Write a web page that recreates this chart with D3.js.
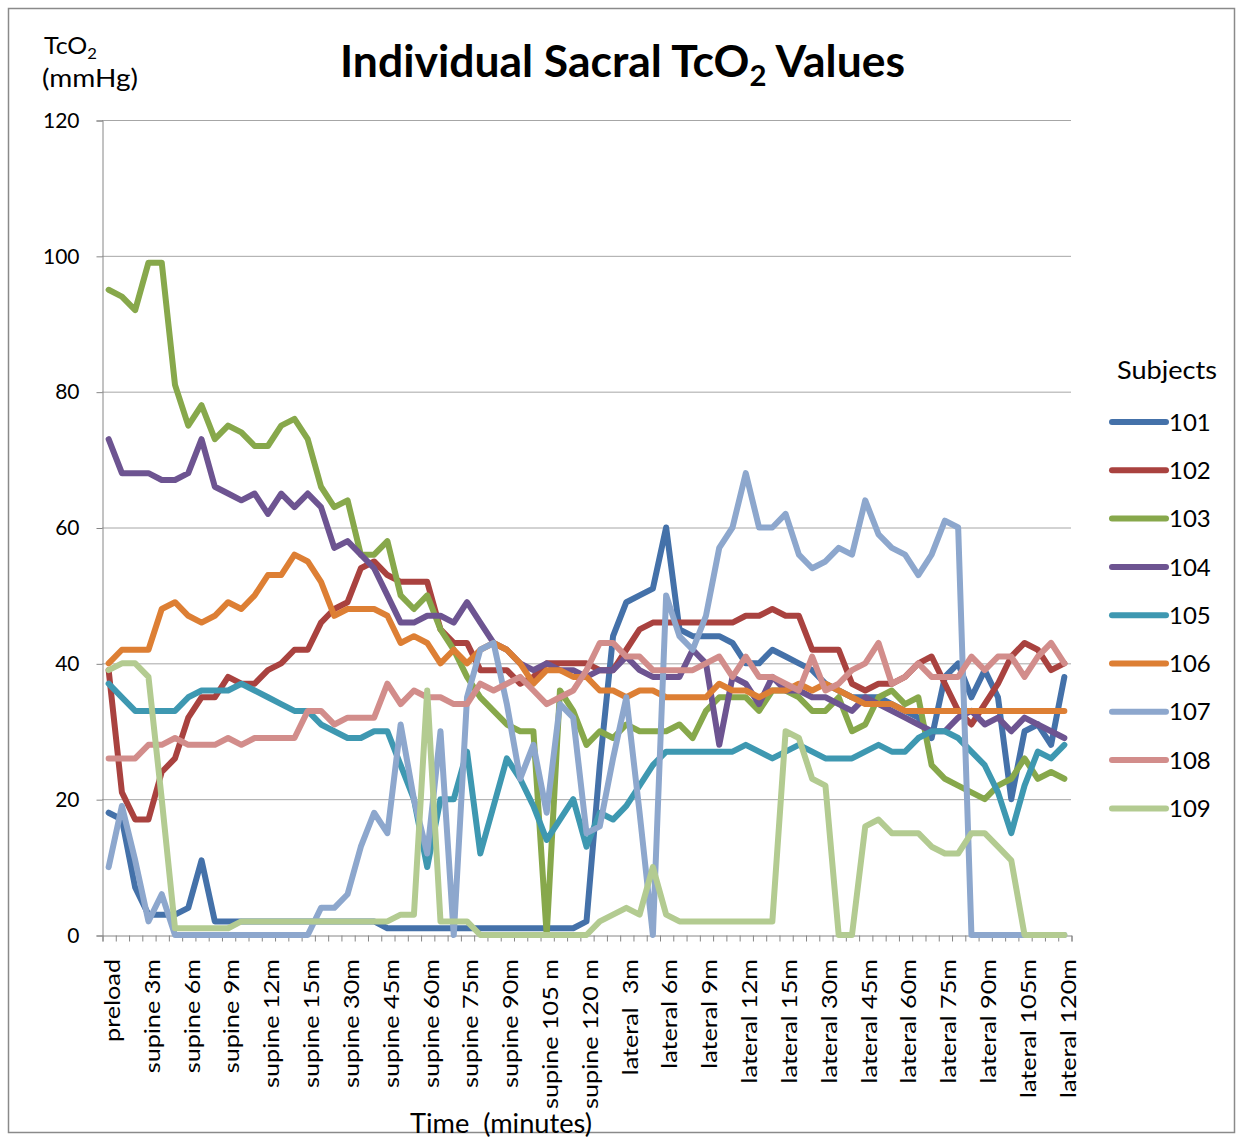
<!DOCTYPE html>
<html>
<head>
<meta charset="utf-8">
<script src="https://cdn.jsdelivr.net/npm/d3@7"></script>
<style>
  body { margin: 0; background: #fff; }
  text { font-family: Lato, "Open Sans", sans-serif; fill: #000; }
</style>
</head>
<body>
<div id="chart"></div>
<script>
// time points (73 categories, every 3rd labelled)
const categories = [
  "preload",
  "supine 1m", "supine 2m", "supine 3m", "supine 4m", "supine 5m", "supine 6m", "supine 7m", "supine 8m",
  "supine 9m", "supine 10m", "supine 11m", "supine 12m", "supine 13m", "supine 14m", "supine 15m",
  "supine 20m", "supine 25m", "supine 30m", "supine 35m", "supine 40m", "supine 45m", "supine 50m",
  "supine 55m", "supine 60m", "supine 65m", "supine 70m", "supine 75m", "supine 80m", "supine 85m",
  "supine 90m", "supine 95m", "supine 100m", "supine 105 m", "supine 110m", "supine 115m", "supine 120 m",
  "lateral 1m", "lateral 2m", "lateral  3m", "lateral 4m", "lateral 5m", "lateral 6m", "lateral 7m", "lateral 8m",
  "lateral 9m", "lateral 10m", "lateral 11m", "lateral 12m", "lateral 13m", "lateral 14m", "lateral 15m",
  "lateral 20m", "lateral 25m", "lateral 30m", "lateral 35m", "lateral 40m", "lateral 45m", "lateral 50m",
  "lateral 55m", "lateral 60m", "lateral 65m", "lateral 70m", "lateral 75m", "lateral 80m", "lateral 85m",
  "lateral 90m", "lateral 95m", "lateral 100m", "lateral 105m", "lateral 110m", "lateral 115m", "lateral 120m"
];

const subjects = ["101", "102", "103", "104", "105", "106", "107", "108", "109"];
const colors = ["#4471a9", "#a9423f", "#87a84b", "#6d5491", "#3e98b1", "#dd7f34", "#8da7cd", "#d28d8b", "#b3cb91"];

const s101 = [18,17,7,3,3,3,4,11,2,2, 2,2,2,2,2,2,2,2,2,2, 2,1,1,1,1,1,1,1,1,1, 1,1,1,1,1,1,2,
  25,44,49,50,51,60,45,44,44, 44,43,40,40,42,41,40,39,37,36, 35,35,35,34,33,32,29,38,40,35, 39,35,20,30,31,28,38];
const s102 = [39,21,17,17,24,26,32,35,35,38, 37,37,39,40,42,42,46,48,49,54, 55,53,52,52,52,45,43,43,39,39, 39,37,38,40,40,40,40,
  39,39,42,45,46,46,46,46,46, 46,46,47,47,48,47,47,42,42,42, 37,36,37,37,38,40,41,37,33,31, 34,37,41,43,42,39,40];
const s103 = [95,94,92,99,99,81,75,78,73,75, 74,72,72,75,76,73,66,63,64,56, 56,58,50,48,50,45,42,38,35,33, 31,30,30,0,36,33,28,
  30,29,31,30,30,30,31,29,33, 35,35,35,33,36,36,35,33,33,35, 30,31,35,36,34,35,25,23,22,21, 20,22,23,26,23,24,23];
const s104 = [73,68,68,68,67,67,68,73,66,65, 64,65,62,65,63,65,63,57,58,56, 54,50,46,46,47,47,46,49,46,43, 42,40,39,40,39,39,38,
  39,39,41,39,38,38,38,42,40, 28,38,37,34,38,36,36,35,35,34, 33,35,34,33,32,31,30,30,32,33, 31,32,30,32,31,30,29];
const s105 = [37,35,33,33,33,33,35,36,36,36, 37,36,35,34,33,33,31,30,29,29, 30,30,25,20,10,20,20,27,12,19, 26,23,19,14,17,20,13,
  18,17,19,22,25,27,27,27,27, 27,27,28,27,26,27,28,27,26,26, 26,27,28,27,27,29,30,30,29,27, 25,21,15,22,27,26,28];
const s106 = [40,42,42,42,48,49,47,46,47,49, 48,50,53,53,56,55,52,47,48,48, 48,47,43,44,43,40,42,40,42,43, 42,40,37,39,39,38,38,
  36,36,35,36,36,35,35,35,35, 37,36,36,35,36,36,37,36,37,36, 35,34,34,34,33,33,33,33,33,33, 33,33,33,33,33,33,33];
const s107 = [10,19,11,2,6,0,0,0,0,0, 0,0,0,0,0,0,4,4,6,13, 18,15,31,20,12,30,0,35,42,43, 34,23,28,18,34,32,15,
  16,26,35,18,0,50,44,42,47, 57,60,68,60,60,62,56,54,55,57, 56,64,59,57,56,53,56,61,60,0, 0,0,0,0,0,0,0];
const s108 = [26,26,26,28,28,29,28,28,28,29, 28,29,29,29,29,33,33,31,32,32, 32,37,34,36,35,35,34,34,37,36, 37,38,36,34,35,36,39,
  43,43,41,41,39,39,39,39,40, 41,38,41,38,38,37,36,41,36,37, 39,40,43,37,38,40,38,38,38,41, 39,41,41,38,41,43,40];
const s109 = [39,40,40,38,20,1,1,1,1,1, 2,2,2,2,2,2,2,2,2,2, 2,2,3,3,36,2,2,2,0,0, 0,0,0,0,0,0,0,
  2,3,4,3,10,3,2,2,2, 2,2,2,2,2,30,29,23,22,0, 0,16,17,15,15,15,13,12,12,15, 15,13,11,0,0,0,0];

const series = [s101, s102, s103, s104, s105, s106, s107, s108, s109];
const yTicks = [0, 20, 40, 60, 80, 100, 120];

const svgWidth = 1243, svgHeight = 1141;
const plot = { left: 102, right: 1071, top: 120, bottom: 935 };

const svg = d3.select("#chart").append("svg")
  .attr("width", svgWidth)
  .attr("height", svgHeight);

// outer frame
svg.append("rect")
  .attr("x", 8.5).attr("y", 8.5)
  .attr("width", svgWidth - 17).attr("height", svgHeight - 17)
  .attr("fill", "#fff")
  .attr("stroke", "#8a8a8a")
  .attr("stroke-width", 1.5);

const x = d3.scaleBand()
  .domain(d3.range(categories.length))
  .range([plot.left, plot.right]);
const xEdge = d3.scaleLinear()
  .domain([0, categories.length])
  .range([plot.left, plot.right]);
const y = d3.scaleLinear()
  .domain([0, 120])
  .range([plot.bottom, plot.top]);

// gridlines
svg.append("g")
  .selectAll("line")
  .data(yTicks.filter(d => d > 0))
  .join("line")
  .attr("x1", plot.left).attr("x2", plot.right)
  .attr("y1", d => y(d) + 0.5).attr("y2", d => y(d) + 0.5)
  .attr("stroke", "#a6a6a6");

// y axis
let yAxis = svg.append("g")
  .attr("transform", `translate(${plot.left + 0.5},0.5)`)
  .call(d3.axisLeft(y).tickValues(yTicks).tickSize(6).tickPadding(17));
yAxis.select(".domain").attr("stroke", "#868686");
yAxis.selectAll(".tick line").attr("stroke", "#868686");
yAxis.selectAll(".tick text")
  .style("font-family", "Lato, sans-serif")
  .attr("font-size", 21);

// x axis: ticks on category edges
let xAxis = svg.append("g")
  .attr("transform", `translate(0.5,${plot.bottom + 0.5})`)
  .call(d3.axisBottom(xEdge).tickValues(d3.range(categories.length + 1)).tickSize(6).tickFormat(""));
xAxis.select(".domain").attr("stroke", "#868686");
xAxis.selectAll(".tick line").attr("stroke", "#868686");

// category labels, every third (stretched along their length like the original)
svg.append("g")
  .selectAll("text")
  .data(categories.map((c, i) => ({ c, i })).filter(d => d.i % 3 === 0))
  .join("text")
  .attr("transform", d => `translate(${x(d.i) + x.bandwidth() / 2 + 4},${plot.bottom + 24}) rotate(-90) scale(1.2,1)`)
  .attr("text-anchor", "end")
  .attr("dy", "0.35em")
  .attr("font-size", 21)
  .style("white-space", "pre")
  .text(d => d.c);

// series lines
const line = d3.line()
  .x((d, i) => x(i) + x.bandwidth() / 2)
  .y(d => y(d));

svg.append("g")
  .selectAll("path")
  .data(series)
  .join("path")
  .attr("d", line)
  .attr("fill", "none")
  .attr("stroke", (d, i) => colors[i])
  .attr("stroke-width", 6)
  .attr("stroke-linejoin", "round")
  .attr("stroke-linecap", "round");

// title
let title = svg.append("text")
  .attr("x", 340).attr("y", 77)
  .attr("font-size", 44)
  .attr("font-weight", "bold")
  .attr("textLength", 565)
  .attr("lengthAdjust", "spacingAndGlyphs");
title.append("tspan").text("Individual Sacral TcO");
title.append("tspan").attr("font-size", 29).attr("dy", 9).text("2");
title.append("tspan").attr("dy", -9).text(" Values");

// y axis title
let yTitle = svg.append("text")
  .attr("x", 44).attr("y", 54)
  .attr("font-size", 24)
  .attr("textLength", 53)
  .attr("lengthAdjust", "spacingAndGlyphs");
yTitle.append("tspan").text("TcO");
yTitle.append("tspan").attr("font-size", 16).attr("dy", 5).text("2");
svg.append("text")
  .attr("x", 42).attr("y", 87)
  .attr("font-size", 25)
  .attr("textLength", 96)
  .attr("lengthAdjust", "spacingAndGlyphs")
  .text("(mmHg)");

// x axis title
svg.append("text")
  .attr("x", 410).attr("y", 1133)
  .attr("font-size", 26)
  .attr("textLength", 182)
  .attr("lengthAdjust", "spacingAndGlyphs")
  .style("white-space", "pre")
  .text("Time  (minutes)");

// legend
svg.append("text")
  .attr("x", 1117).attr("y", 379)
  .attr("font-size", 25)
  .attr("textLength", 100)
  .attr("lengthAdjust", "spacingAndGlyphs")
  .text("Subjects");

let legend = svg.append("g")
  .selectAll("g")
  .data(subjects)
  .join("g")
  .attr("transform", (d, i) => `translate(1112,${422 + i * 48.3})`);
legend.append("line")
  .attr("x1", 0).attr("x2", 54)
  .attr("stroke", (d, i) => colors[i])
  .attr("stroke-width", 6)
  .attr("stroke-linecap", "round");
legend.append("text")
  .attr("x", 57).attr("dy", "0.36em")
  .attr("font-size", 24)
  .text(d => d);
</script>
</body>
</html>
